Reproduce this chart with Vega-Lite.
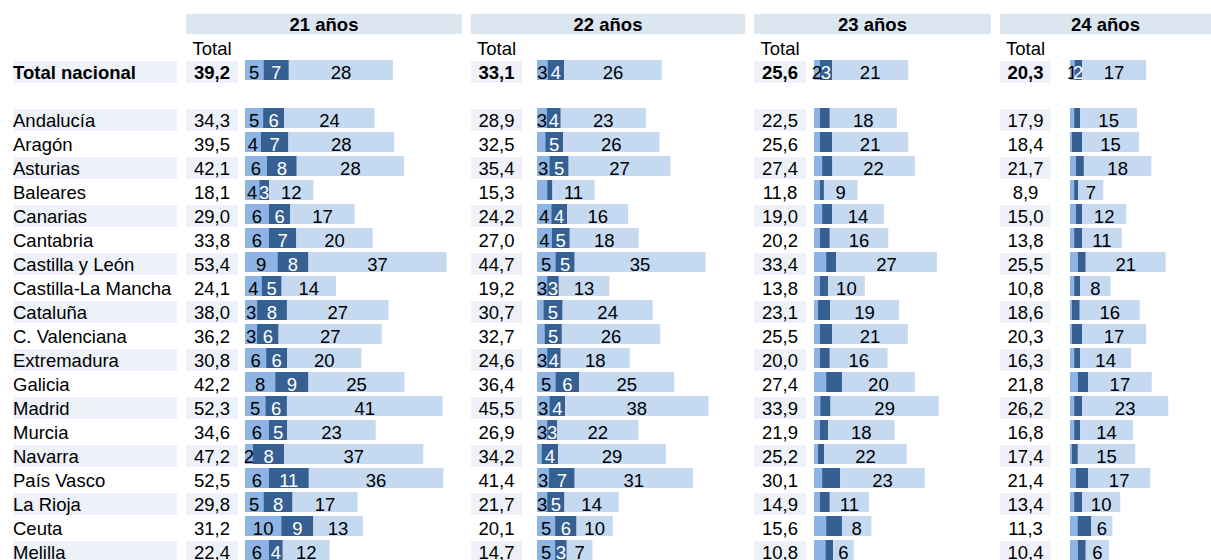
{
"$schema": "https://vega.github.io/schema/vega-lite/v6.json",
"padding": {"left": 13, "top": 12, "right": 0, "bottom": 0},
"spacing": 9,
"config": {"view": {"stroke": null}, "text": {"font": "Liberation Sans", "fontSize": 18.5, "color": "#000000", "dy": 1}, "locale": {"number": {"decimal": ",", "thousands": ".", "grouping": [3], "currency": ["", " €"]}}},
"data": {"values": [
{"r":"Total nacional","a":"21 años","t":39.2,"v":[4.9,6.7,27.6],"l":["5","7","28"],"k":[1,2,3]},
{"r":"Andalucía","a":"21 años","t":34.3,"v":[4.8,5.6,23.9],"l":["5","6","24"],"k":[1,2,3]},
{"r":"Aragón","a":"21 años","t":39.5,"v":[4.2,7.3,28.0],"l":["4","7","28"],"k":[1,2,3]},
{"r":"Asturias","a":"21 años","t":42.1,"v":[5.8,7.9,28.4],"l":["6","8","28"],"k":[1,2,3]},
{"r":"Baleares","a":"21 años","t":18.1,"v":[3.8,2.6,11.7],"l":["4","3","12"],"k":[1,2,3]},
{"r":"Canarias","a":"21 años","t":29.0,"v":[6.3,5.7,17.0],"l":["6","6","17"],"k":[1,2,3]},
{"r":"Cantabria","a":"21 años","t":33.8,"v":[6.3,7.3,20.2],"l":["6","7","20"],"k":[1,2,3]},
{"r":"Castilla y León","a":"21 años","t":53.4,"v":[8.6,8.2,36.6],"l":["9","8","37"],"k":[1,2,3]},
{"r":"Castilla-La Mancha","a":"21 años","t":24.1,"v":[4.4,5.3,14.4],"l":["4","5","14"],"k":[1,2,3]},
{"r":"Cataluña","a":"21 años","t":38.0,"v":[3.2,7.9,26.9],"l":["3","8","27"],"k":[1,2,3]},
{"r":"C. Valenciana","a":"21 años","t":36.2,"v":[3.2,5.7,27.3],"l":["3","6","27"],"k":[1,2,3]},
{"r":"Extremadura","a":"21 años","t":30.8,"v":[5.6,5.6,19.6],"l":["6","6","20"],"k":[1,2,3]},
{"r":"Galicia","a":"21 años","t":42.2,"v":[8.0,8.8,25.4],"l":["8","9","25"],"k":[1,2,3]},
{"r":"Madrid","a":"21 años","t":52.3,"v":[5.4,5.7,41.2],"l":["5","6","41"],"k":[1,2,3]},
{"r":"Murcia","a":"21 años","t":34.6,"v":[6.3,4.9,23.4],"l":["6","5","23"],"k":[1,2,3]},
{"r":"Navarra","a":"21 años","t":47.2,"v":[2.1,8.3,36.8],"l":["2","8","37"],"k":[1,2,3]},
{"r":"País Vasco","a":"21 años","t":52.5,"v":[6.3,10.6,35.6],"l":["6","11","36"],"k":[1,2,3]},
{"r":"La Rioja","a":"21 años","t":29.8,"v":[4.9,7.7,17.2],"l":["5","8","17"],"k":[1,2,3]},
{"r":"Ceuta","a":"21 años","t":31.2,"v":[9.6,8.5,13.1],"l":["10","9","13"],"k":[1,2,3]},
{"r":"Melilla","a":"21 años","t":22.4,"v":[6.3,3.7,12.4],"l":["6","4","12"],"k":[1,2,3]},
{"r":"Total nacional","a":"22 años","t":33.1,"v":[2.8,4.4,25.9],"l":["3","4","26"],"k":[1,2,3]},
{"r":"Andalucía","a":"22 años","t":28.9,"v":[2.6,3.7,22.6],"l":["3","4","23"],"k":[1,2,3]},
{"r":"Aragón","a":"22 años","t":32.5,"v":[2.2,4.7,25.6],"l":["","5","26"],"k":[1,2,3]},
{"r":"Asturias","a":"22 años","t":35.4,"v":[3.3,5.1,27.0],"l":["3","5","27"],"k":[1,2,3]},
{"r":"Baleares","a":"22 años","t":15.3,"v":[2.7,1.4,11.2],"l":["","","11"],"k":[1,2,3]},
{"r":"Canarias","a":"22 años","t":24.2,"v":[3.8,4.2,16.2],"l":["4","4","16"],"k":[1,2,3]},
{"r":"Cantabria","a":"22 años","t":27.0,"v":[3.9,4.8,18.3],"l":["4","5","18"],"k":[1,2,3]},
{"r":"Castilla y León","a":"22 años","t":44.7,"v":[4.9,5.1,34.7],"l":["5","5","35"],"k":[1,2,3]},
{"r":"Castilla-La Mancha","a":"22 años","t":19.2,"v":[2.7,3.1,13.4],"l":["3","3","13"],"k":[1,2,3]},
{"r":"Cataluña","a":"22 años","t":30.7,"v":[1.7,5.1,23.9],"l":["","5","24"],"k":[1,2,3]},
{"r":"C. Valenciana","a":"22 años","t":32.7,"v":[2.0,4.6,26.1],"l":["","5","26"],"k":[1,2,3]},
{"r":"Extremadura","a":"22 años","t":24.6,"v":[2.7,3.6,18.3],"l":["3","4","18"],"k":[1,2,3]},
{"r":"Galicia","a":"22 años","t":36.4,"v":[4.9,6.3,25.2],"l":["5","6","25"],"k":[1,2,3]},
{"r":"Madrid","a":"22 años","t":45.5,"v":[3.3,4.2,38.0],"l":["3","4","38"],"k":[1,2,3]},
{"r":"Murcia","a":"22 años","t":26.9,"v":[2.7,2.7,21.5],"l":["3","3","22"],"k":[1,2,3]},
{"r":"Navarra","a":"22 años","t":34.2,"v":[1.2,4.4,28.6],"l":["","4","29"],"k":[1,2,3]},
{"r":"País Vasco","a":"22 años","t":41.4,"v":[3.2,6.8,31.4],"l":["3","7","31"],"k":[1,2,3]},
{"r":"La Rioja","a":"22 años","t":21.7,"v":[2.7,4.6,14.4],"l":["3","5","14"],"k":[1,2,3]},
{"r":"Ceuta","a":"22 años","t":20.1,"v":[4.8,5.7,9.6],"l":["5","6","10"],"k":[1,2,3]},
{"r":"Melilla","a":"22 años","t":14.7,"v":[4.8,3.1,6.8],"l":["5","3","7"],"k":[1,2,3]},
{"r":"Total nacional","a":"23 años","t":25.6,"v":[1.6,3.3,20.7],"l":["2","3","21"],"k":[1,2,3]},
{"r":"Andalucía","a":"23 años","t":22.5,"v":[1.6,2.7,18.2],"l":["","","18"],"k":[1,2,3]},
{"r":"Aragón","a":"23 años","t":25.6,"v":[1.6,3.3,20.7],"l":["","","21"],"k":[1,2,3]},
{"r":"Asturias","a":"23 años","t":27.4,"v":[2.2,2.8,22.4],"l":["","","22"],"k":[1,2,3]},
{"r":"Baleares","a":"23 años","t":11.8,"v":[1.6,1.1,9.1],"l":["","","9"],"k":[1,2,3]},
{"r":"Canarias","a":"23 años","t":19.0,"v":[2.2,2.7,14.1],"l":["","","14"],"k":[1,2,3]},
{"r":"Cantabria","a":"23 años","t":20.2,"v":[1.6,2.7,15.9],"l":["","","16"],"k":[1,2,3]},
{"r":"Castilla y León","a":"23 años","t":33.4,"v":[3.3,2.7,27.4],"l":["","","27"],"k":[1,2,3]},
{"r":"Castilla-La Mancha","a":"23 años","t":13.8,"v":[1.6,2.2,10.0],"l":["","","10"],"k":[1,2,3]},
{"r":"Cataluña","a":"23 años","t":23.1,"v":[1.1,3.3,18.7],"l":["","","19"],"k":[1,2,3]},
{"r":"C. Valenciana","a":"23 años","t":25.5,"v":[1.6,3.3,20.6],"l":["","","21"],"k":[1,2,3]},
{"r":"Extremadura","a":"23 años","t":20.0,"v":[1.6,2.7,15.7],"l":["","","16"],"k":[1,2,3]},
{"r":"Galicia","a":"23 años","t":27.4,"v":[3.3,4.3,19.8],"l":["","","20"],"k":[1,2,3]},
{"r":"Madrid","a":"23 años","t":33.9,"v":[1.7,2.8,29.4],"l":["","","29"],"k":[1,2,3]},
{"r":"Murcia","a":"23 años","t":21.9,"v":[1.6,2.2,18.1],"l":["","","18"],"k":[1,2,3]},
{"r":"Navarra","a":"23 años","t":25.2,"v":[1.1,1.7,22.4],"l":["","","22"],"k":[1,2,3]},
{"r":"País Vasco","a":"23 años","t":30.1,"v":[2.2,4.9,23.0],"l":["","","23"],"k":[1,2,3]},
{"r":"La Rioja","a":"23 años","t":14.9,"v":[1.6,2.7,10.6],"l":["","","11"],"k":[1,2,3]},
{"r":"Ceuta","a":"23 años","t":15.6,"v":[3.3,4.3,8.0],"l":["","","8"],"k":[1,2,3]},
{"r":"Melilla","a":"23 años","t":10.8,"v":[3.1,2.1,5.6],"l":["","","6"],"k":[1,2,3]},
{"r":"Total nacional","a":"24 años","t":20.3,"v":[1.2,2.0,17.1],"l":["1","2","17"],"k":[1,2,3]},
{"r":"Andalucía","a":"24 años","t":17.9,"v":[1.1,1.6,15.2],"l":["","","15"],"k":[1,2,3]},
{"r":"Aragón","a":"24 años","t":18.4,"v":[0.5,2.7,15.2],"l":["","","15"],"k":[1,2,3]},
{"r":"Asturias","a":"24 años","t":21.7,"v":[1.6,2.1,18.0],"l":["","","18"],"k":[1,2,3]},
{"r":"Baleares","a":"24 años","t":8.9,"v":[1.1,1.1,6.7],"l":["","","7"],"k":[1,2,3]},
{"r":"Canarias","a":"24 años","t":15.0,"v":[1.6,1.6,11.8],"l":["","","12"],"k":[1,2,3]},
{"r":"Cantabria","a":"24 años","t":13.8,"v":[1.1,2.1,10.6],"l":["","","11"],"k":[1,2,3]},
{"r":"Castilla y León","a":"24 años","t":25.5,"v":[2.1,2.1,21.3],"l":["","","21"],"k":[1,2,3]},
{"r":"Castilla-La Mancha","a":"24 años","t":10.8,"v":[1.1,1.6,8.1],"l":["","","8"],"k":[1,2,3]},
{"r":"Cataluña","a":"24 años","t":18.6,"v":[0.5,2.1,16.0],"l":["","","16"],"k":[1,2,3]},
{"r":"C. Valenciana","a":"24 años","t":20.3,"v":[0.5,2.7,17.1],"l":["","","17"],"k":[1,2,3]},
{"r":"Extremadura","a":"24 años","t":16.3,"v":[1.1,1.6,13.6],"l":["","","14"],"k":[1,2,3]},
{"r":"Galicia","a":"24 años","t":21.8,"v":[2.1,2.7,17.0],"l":["","","17"],"k":[1,2,3]},
{"r":"Madrid","a":"24 años","t":26.2,"v":[1.1,2.1,23.0],"l":["","","23"],"k":[1,2,3]},
{"r":"Murcia","a":"24 años","t":16.8,"v":[1.1,1.6,14.1],"l":["","","14"],"k":[1,2,3]},
{"r":"Navarra","a":"24 años","t":17.4,"v":[0.5,1.6,15.3],"l":["","","15"],"k":[1,2,3]},
{"r":"País Vasco","a":"24 años","t":21.4,"v":[1.6,3.2,16.6],"l":["","","17"],"k":[1,2,3]},
{"r":"La Rioja","a":"24 años","t":13.4,"v":[1.1,2.1,10.2],"l":["","","10"],"k":[1,2,3]},
{"r":"Ceuta","a":"24 años","t":11.3,"v":[2.0,3.7,5.6],"l":["","","6"],"k":[1,2,3]},
{"r":"Melilla","a":"24 años","t":10.4,"v":[2.1,2.1,6.2],"l":["","","6"],"k":[1,2,3]}
]},
"hconcat": [
{
 "width": 164, "height": 552,
 "transform": [{"filter": "datum.a == '21 años'"}],
 "encoding": {"y": {"field": "r", "type": "nominal", "axis": null, "scale": {"domain": ["hdr","Total","Total nacional","-","Andalucía","Aragón","Asturias","Baleares","Canarias","Cantabria","Castilla y León","Castilla-La Mancha","Cataluña","C. Valenciana","Extremadura","Galicia","Madrid","Murcia","Navarra","País Vasco","La Rioja","Ceuta","Melilla"], "paddingInner": 0, "paddingOuter": 0}}},
 "layer": [
  {"transform": [{"filter": {"field": "r", "oneOf": ["Total nacional","Andalucía","Asturias","Canarias","Castilla y León","Cataluña","Extremadura","Madrid","Navarra","La Rioja","Melilla"]}}],
   "mark": {"type": "bar", "height": 22, "color": "#EEF2F8"},
   "encoding": {"x": {"value": 0}, "x2": {"value": "width"}}},
  {"transform": [{"filter": "datum.r != 'Total nacional'"}],
   "mark": {"type": "text", "align": "left"},
   "encoding": {"x": {"value": 0}, "text": {"field": "r"}}},
  {"transform": [{"filter": "datum.r == 'Total nacional'"}],
   "mark": {"type": "text", "align": "left", "fontWeight": "bold"},
   "encoding": {"x": {"value": 0}, "text": {"field": "r"}}}
 ]
},
{"vconcat": [
 {"width": 276, "height": 24,
  "transform": [{"filter": "datum.a == '21 años' && datum.r == 'Total nacional'"}],
  "encoding": {"x": {"field": "a", "type": "nominal", "axis": null, "scale": {"paddingInner": 0, "paddingOuter": 0}}, "y": {"field": "a", "type": "nominal", "axis": null, "scale": {"paddingInner": 0, "paddingOuter": 0.1}}},
  "layer": [{"mark": {"type": "rect", "color": "#DCE6F1"}}, {"mark": {"type": "text", "fontWeight": "bold"}, "encoding": {"text": {"field": "a"}}}]},
 {"hconcat": [
  {"width": 52, "height": 528,
   "transform": [{"filter": "datum.a == '21 años'"}],
   "encoding": {"x": {"field": "a", "type": "nominal", "axis": null, "scale": {"paddingInner": 0, "paddingOuter": 0}}, "y": {"field": "r", "type": "nominal", "axis": null, "scale": {"domain": ["Total","Total nacional","-","Andalucía","Aragón","Asturias","Baleares","Canarias","Cantabria","Castilla y León","Castilla-La Mancha","Cataluña","C. Valenciana","Extremadura","Galicia","Madrid","Murcia","Navarra","País Vasco","La Rioja","Ceuta","Melilla"], "paddingInner": 0, "paddingOuter": 0}}},
   "layer": [
    {"transform": [{"filter": {"field": "r", "oneOf": ["Total nacional","Andalucía","Asturias","Canarias","Castilla y León","Cataluña","Extremadura","Madrid","Navarra","La Rioja","Melilla"]}}], "mark": {"type": "bar", "height": 22, "color": "#EEF2F8"}, "encoding": {"x": {"value": 0}, "x2": {"value": "width"}}},
    {"transform": [{"filter": "datum.r == 'Total nacional'"}], "mark": {"type": "text"}, "encoding": {"y": {"datum": "Total", "type": "nominal"}, "text": {"value": "Total"}}},
    {"transform": [{"filter": "datum.r != 'Total nacional'"}], "mark": {"type": "text"}, "encoding": {"text": {"field": "t", "type": "quantitative", "format": ".1f"}}},
    {"transform": [{"filter": "datum.r == 'Total nacional'"}], "mark": {"type": "text", "fontWeight": "bold"}, "encoding": {"text": {"field": "t", "type": "quantitative", "format": ".1f"}}}
   ]},
  {"width": 217, "height": 528,
   "transform": [{"filter": "datum.a == '21 años'"}, {"flatten": ["v", "l", "k"]}, {"stack": "v", "groupby": ["r"], "sort": [{"field": "k", "order": "ascending"}], "as": ["x0", "x1"]}, {"calculate": "(datum.x0 + datum.x1) / 2", "as": "xm"}],
   "encoding": {"y": {"field": "r", "type": "nominal", "axis": null, "scale": {"domain": ["Total","Total nacional","-","Andalucía","Aragón","Asturias","Baleares","Canarias","Cantabria","Castilla y León","Castilla-La Mancha","Cataluña","C. Valenciana","Extremadura","Galicia","Madrid","Murcia","Navarra","País Vasco","La Rioja","Ceuta","Melilla"], "paddingInner": 0, "paddingOuter": 0}}},
   "layer": [
    {"mark": {"type": "bar", "height": 20, "yOffset": -2}, "encoding": {"x": {"field": "x0", "type": "quantitative", "axis": null, "scale": {"domain": [0, 57.45], "nice": false, "zero": true}}, "x2": {"field": "x1"}, "color": {"field": "k", "type": "nominal", "legend": null, "scale": {"domain": [1, 2, 3], "range": ["#8DB4E2", "#366092", "#C5D9F1"]}}}},
    {"transform": [{"filter": "datum.l != ''"}], "mark": {"type": "text"}, "encoding": {"x": {"field": "xm", "type": "quantitative"}, "text": {"field": "l"}, "color": {"condition": {"test": "datum.k == 2", "value": "#FFFFFF"}, "value": "#000000"}}}
   ]}
 ], "spacing": 7, "bounds": "flush"}
], "spacing": 0, "bounds": "flush"},
{"vconcat": [
 {"width": 274, "height": 24,
  "transform": [{"filter": "datum.a == '22 años' && datum.r == 'Total nacional'"}],
  "encoding": {"x": {"field": "a", "type": "nominal", "axis": null, "scale": {"paddingInner": 0, "paddingOuter": 0}}, "y": {"field": "a", "type": "nominal", "axis": null, "scale": {"paddingInner": 0, "paddingOuter": 0.1}}},
  "layer": [{"mark": {"type": "rect", "color": "#DCE6F1"}}, {"mark": {"type": "text", "fontWeight": "bold"}, "encoding": {"text": {"field": "a"}}}]},
 {"hconcat": [
  {"width": 51, "height": 528,
   "transform": [{"filter": "datum.a == '22 años'"}],
   "encoding": {"x": {"field": "a", "type": "nominal", "axis": null, "scale": {"paddingInner": 0, "paddingOuter": 0}}, "y": {"field": "r", "type": "nominal", "axis": null, "scale": {"domain": ["Total","Total nacional","-","Andalucía","Aragón","Asturias","Baleares","Canarias","Cantabria","Castilla y León","Castilla-La Mancha","Cataluña","C. Valenciana","Extremadura","Galicia","Madrid","Murcia","Navarra","País Vasco","La Rioja","Ceuta","Melilla"], "paddingInner": 0, "paddingOuter": 0}}},
   "layer": [
    {"transform": [{"filter": {"field": "r", "oneOf": ["Total nacional","Andalucía","Asturias","Canarias","Castilla y León","Cataluña","Extremadura","Madrid","Navarra","La Rioja","Melilla"]}}], "mark": {"type": "bar", "height": 22, "color": "#EEF2F8"}, "encoding": {"x": {"value": 0}, "x2": {"value": "width"}}},
    {"transform": [{"filter": "datum.r == 'Total nacional'"}], "mark": {"type": "text"}, "encoding": {"y": {"datum": "Total", "type": "nominal"}, "text": {"value": "Total"}}},
    {"transform": [{"filter": "datum.r != 'Total nacional'"}], "mark": {"type": "text"}, "encoding": {"text": {"field": "t", "type": "quantitative", "format": ".1f"}}},
    {"transform": [{"filter": "datum.r == 'Total nacional'"}], "mark": {"type": "text", "fontWeight": "bold"}, "encoding": {"text": {"field": "t", "type": "quantitative", "format": ".1f"}}}
   ]},
  {"width": 208, "height": 528,
   "transform": [{"filter": "datum.a == '22 años'"}, {"flatten": ["v", "l", "k"]}, {"stack": "v", "groupby": ["r"], "sort": [{"field": "k", "order": "ascending"}], "as": ["x0", "x1"]}, {"calculate": "(datum.x0 + datum.x1) / 2", "as": "xm"}],
   "encoding": {"y": {"field": "r", "type": "nominal", "axis": null, "scale": {"domain": ["Total","Total nacional","-","Andalucía","Aragón","Asturias","Baleares","Canarias","Cantabria","Castilla y León","Castilla-La Mancha","Cataluña","C. Valenciana","Extremadura","Galicia","Madrid","Murcia","Navarra","País Vasco","La Rioja","Ceuta","Melilla"], "paddingInner": 0, "paddingOuter": 0}}},
   "layer": [
    {"mark": {"type": "bar", "height": 20, "yOffset": -2}, "encoding": {"x": {"field": "x0", "type": "quantitative", "axis": null, "scale": {"domain": [0, 55.2], "nice": false, "zero": true}}, "x2": {"field": "x1"}, "color": {"field": "k", "type": "nominal", "legend": null, "scale": {"domain": [1, 2, 3], "range": ["#8DB4E2", "#366092", "#C5D9F1"]}}}},
    {"transform": [{"filter": "datum.l != ''"}], "mark": {"type": "text"}, "encoding": {"x": {"field": "xm", "type": "quantitative"}, "text": {"field": "l"}, "color": {"condition": {"test": "datum.k == 2", "value": "#FFFFFF"}, "value": "#000000"}}}
   ]}
 ], "spacing": 15, "bounds": "flush"}
], "spacing": 0, "bounds": "flush"},
{"vconcat": [
 {"width": 237, "height": 24,
  "transform": [{"filter": "datum.a == '23 años' && datum.r == 'Total nacional'"}],
  "encoding": {"x": {"field": "a", "type": "nominal", "axis": null, "scale": {"paddingInner": 0, "paddingOuter": 0}}, "y": {"field": "a", "type": "nominal", "axis": null, "scale": {"paddingInner": 0, "paddingOuter": 0.1}}},
  "layer": [{"mark": {"type": "rect", "color": "#DCE6F1"}}, {"mark": {"type": "text", "fontWeight": "bold"}, "encoding": {"text": {"field": "a"}}}]},
 {"hconcat": [
  {"width": 52, "height": 528,
   "transform": [{"filter": "datum.a == '23 años'"}],
   "encoding": {"x": {"field": "a", "type": "nominal", "axis": null, "scale": {"paddingInner": 0, "paddingOuter": 0}}, "y": {"field": "r", "type": "nominal", "axis": null, "scale": {"domain": ["Total","Total nacional","-","Andalucía","Aragón","Asturias","Baleares","Canarias","Cantabria","Castilla y León","Castilla-La Mancha","Cataluña","C. Valenciana","Extremadura","Galicia","Madrid","Murcia","Navarra","País Vasco","La Rioja","Ceuta","Melilla"], "paddingInner": 0, "paddingOuter": 0}}},
   "layer": [
    {"transform": [{"filter": {"field": "r", "oneOf": ["Total nacional","Andalucía","Asturias","Canarias","Castilla y León","Cataluña","Extremadura","Madrid","Navarra","La Rioja","Melilla"]}}], "mark": {"type": "bar", "height": 22, "color": "#EEF2F8"}, "encoding": {"x": {"value": 0}, "x2": {"value": "width"}}},
    {"transform": [{"filter": "datum.r == 'Total nacional'"}], "mark": {"type": "text"}, "encoding": {"y": {"datum": "Total", "type": "nominal"}, "text": {"value": "Total"}}},
    {"transform": [{"filter": "datum.r != 'Total nacional'"}], "mark": {"type": "text"}, "encoding": {"text": {"field": "t", "type": "quantitative", "format": ".1f"}}},
    {"transform": [{"filter": "datum.r == 'Total nacional'"}], "mark": {"type": "text", "fontWeight": "bold"}, "encoding": {"text": {"field": "t", "type": "quantitative", "format": ".1f"}}}
   ]},
  {"width": 177, "height": 528,
   "transform": [{"filter": "datum.a == '23 años'"}, {"flatten": ["v", "l", "k"]}, {"stack": "v", "groupby": ["r"], "sort": [{"field": "k", "order": "ascending"}], "as": ["x0", "x1"]}, {"calculate": "(datum.x0 + datum.x1) / 2", "as": "xm"}],
   "encoding": {"y": {"field": "r", "type": "nominal", "axis": null, "scale": {"domain": ["Total","Total nacional","-","Andalucía","Aragón","Asturias","Baleares","Canarias","Cantabria","Castilla y León","Castilla-La Mancha","Cataluña","C. Valenciana","Extremadura","Galicia","Madrid","Murcia","Navarra","País Vasco","La Rioja","Ceuta","Melilla"], "paddingInner": 0, "paddingOuter": 0}}},
   "layer": [
    {"mark": {"type": "bar", "height": 20, "yOffset": -2}, "encoding": {"x": {"field": "x0", "type": "quantitative", "axis": null, "scale": {"domain": [0, 48.1], "nice": false, "zero": true}}, "x2": {"field": "x1"}, "color": {"field": "k", "type": "nominal", "legend": null, "scale": {"domain": [1, 2, 3], "range": ["#8DB4E2", "#366092", "#C5D9F1"]}}}},
    {"transform": [{"filter": "datum.l != ''"}], "mark": {"type": "text"}, "encoding": {"x": {"field": "xm", "type": "quantitative"}, "text": {"field": "l"}, "color": {"condition": {"test": "datum.k == 2", "value": "#FFFFFF"}, "value": "#000000"}}}
   ]}
 ], "spacing": 8, "bounds": "flush"}
], "spacing": 0, "bounds": "flush"},
{"vconcat": [
 {"width": 211, "height": 24,
  "transform": [{"filter": "datum.a == '24 años' && datum.r == 'Total nacional'"}],
  "encoding": {"x": {"field": "a", "type": "nominal", "axis": null, "scale": {"paddingInner": 0, "paddingOuter": 0}}, "y": {"field": "a", "type": "nominal", "axis": null, "scale": {"paddingInner": 0, "paddingOuter": 0.1}}},
  "layer": [{"mark": {"type": "rect", "color": "#DCE6F1"}}, {"mark": {"type": "text", "fontWeight": "bold"}, "encoding": {"text": {"field": "a"}}}]},
 {"hconcat": [
  {"width": 51, "height": 528,
   "transform": [{"filter": "datum.a == '24 años'"}],
   "encoding": {"x": {"field": "a", "type": "nominal", "axis": null, "scale": {"paddingInner": 0, "paddingOuter": 0}}, "y": {"field": "r", "type": "nominal", "axis": null, "scale": {"domain": ["Total","Total nacional","-","Andalucía","Aragón","Asturias","Baleares","Canarias","Cantabria","Castilla y León","Castilla-La Mancha","Cataluña","C. Valenciana","Extremadura","Galicia","Madrid","Murcia","Navarra","País Vasco","La Rioja","Ceuta","Melilla"], "paddingInner": 0, "paddingOuter": 0}}},
   "layer": [
    {"transform": [{"filter": {"field": "r", "oneOf": ["Total nacional","Andalucía","Asturias","Canarias","Castilla y León","Cataluña","Extremadura","Madrid","Navarra","La Rioja","Melilla"]}}], "mark": {"type": "bar", "height": 22, "color": "#EEF2F8"}, "encoding": {"x": {"value": 0}, "x2": {"value": "width"}}},
    {"transform": [{"filter": "datum.r == 'Total nacional'"}], "mark": {"type": "text"}, "encoding": {"y": {"datum": "Total", "type": "nominal"}, "text": {"value": "Total"}}},
    {"transform": [{"filter": "datum.r != 'Total nacional'"}], "mark": {"type": "text"}, "encoding": {"text": {"field": "t", "type": "quantitative", "format": ".1f"}}},
    {"transform": [{"filter": "datum.r == 'Total nacional'"}], "mark": {"type": "text", "fontWeight": "bold"}, "encoding": {"text": {"field": "t", "type": "quantitative", "format": ".1f"}}}
   ]},
  {"width": 141, "height": 528,
   "transform": [{"filter": "datum.a == '24 años'"}, {"flatten": ["v", "l", "k"]}, {"stack": "v", "groupby": ["r"], "sort": [{"field": "k", "order": "ascending"}], "as": ["x0", "x1"]}, {"calculate": "(datum.x0 + datum.x1) / 2", "as": "xm"}],
   "encoding": {"y": {"field": "r", "type": "nominal", "axis": null, "scale": {"domain": ["Total","Total nacional","-","Andalucía","Aragón","Asturias","Baleares","Canarias","Cantabria","Castilla y León","Castilla-La Mancha","Cataluña","C. Valenciana","Extremadura","Galicia","Madrid","Murcia","Navarra","País Vasco","La Rioja","Ceuta","Melilla"], "paddingInner": 0, "paddingOuter": 0}}},
   "layer": [
    {"mark": {"type": "bar", "height": 20, "yOffset": -2}, "encoding": {"x": {"field": "x0", "type": "quantitative", "axis": null, "scale": {"domain": [0, 37.6], "nice": false, "zero": true}}, "x2": {"field": "x1"}, "color": {"field": "k", "type": "nominal", "legend": null, "scale": {"domain": [1, 2, 3], "range": ["#8DB4E2", "#366092", "#C5D9F1"]}}}},
    {"transform": [{"filter": "datum.l != ''"}], "mark": {"type": "text"}, "encoding": {"x": {"field": "xm", "type": "quantitative"}, "text": {"field": "l"}, "color": {"condition": {"test": "datum.k == 2", "value": "#FFFFFF"}, "value": "#000000"}}}
   ]}
 ], "spacing": 19, "bounds": "flush"}
], "spacing": 0, "bounds": "flush"}
]
}
